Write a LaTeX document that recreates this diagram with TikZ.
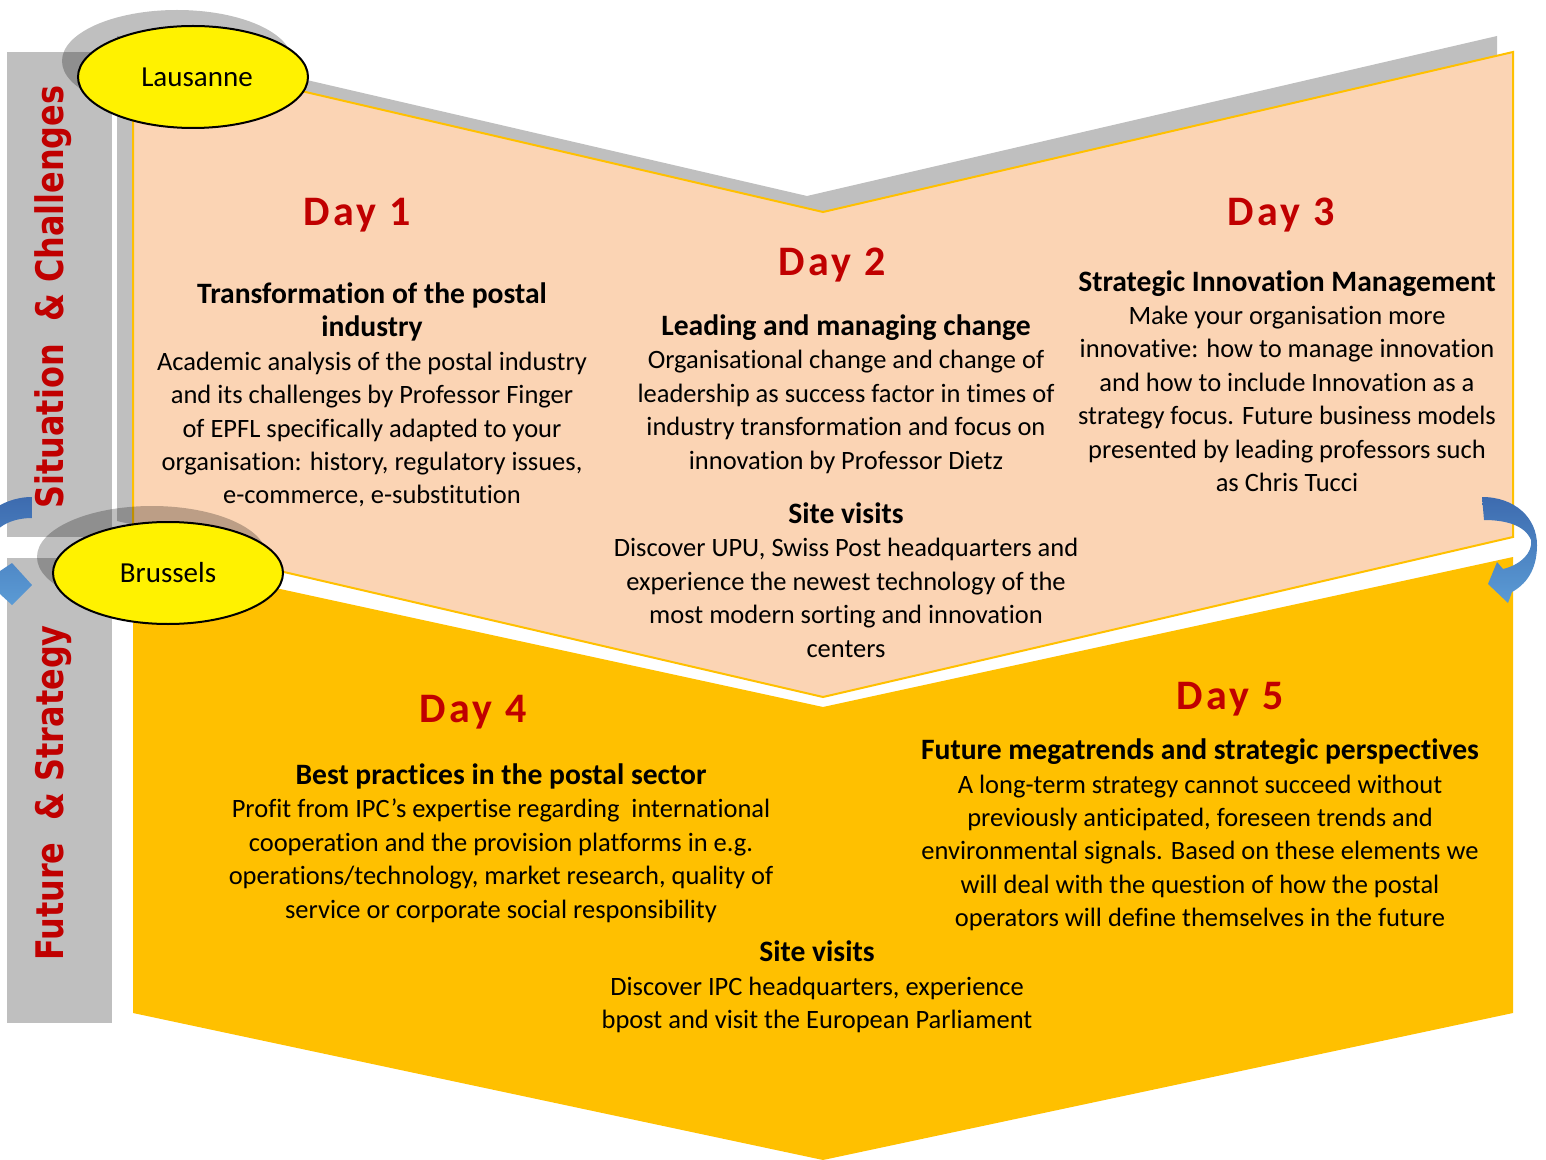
\documentclass[tikz,border=0pt]{standalone}
\usepackage{fontspec}
\setmainfont{Carlito}[Ligatures=NoCommon]
\newfontfamily\dayfont[LetterSpace=8]{Carlito}
\newfontfamily\sidefont{DejaVu Sans}
\usepackage{graphicx}
\usepackage{xcolor}
\usepackage{tikz}
\usetikzlibrary{shapes.geometric}
\usetikzlibrary{shadows}
\usetikzlibrary{positioning}

\definecolor{peach}{HTML}{FBD4B4}
\definecolor{gold}{HTML}{FFC000}
\definecolor{darkred}{HTML}{C00000}
\definecolor{midgray}{HTML}{BFBFBF}
\definecolor{blueA}{HTML}{3D6BAF}
\definecolor{blueB}{HTML}{5B9BD5}

% titulo en negrita, algo mas grande que el texto
\newcommand{\hd}[1]{{\fontsize{14.8}{16.7}\selectfont\bfseries #1}}

\tikzset{
  day/.style={text=darkred, font=\dayfont\bfseries\fontsize{21}{25}\selectfont},
  txt/.style={align=center, inner sep=0pt, font=\fontsize{13.25}{16.7}\selectfont},
  city/.style={ellipse, draw, line width=1pt, fill=yellow,
    minimum width=115pt, minimum height=51pt,
    font=\fontsize{14.5}{17}\selectfont,
    drop shadow={shadow xshift=-8pt, shadow yshift=8pt, opacity=.25, fill=black}},
  side/.style={rotate=90, text=darkred, inner sep=0pt,
    font=\sidefont\bfseries\fontsize{19}{22}\selectfont}
}

\begin{document}
\begin{tikzpicture}[x=0.5pt,y=-0.5pt]
  \clip (0,0) rectangle (1546,1160);

  % Barras grises
  \fill[midgray] (7,52) rectangle (112,537);
  \fill[midgray] (7,558) rectangle (112,1023);

  % Bloque de arriba (con sombra) y bloque de abajo
  \fill[black, opacity=.25, shift={(-16,-16)}]
    (133,52) -- (823,212) -- (1513,52) -- (1513,537) -- (823,697) -- (133,537) -- cycle;
  \filldraw[fill=peach, draw=gold, line width=1pt]
    (133,52) -- (823,212) -- (1513,52) -- (1513,537) -- (823,697) -- (133,537) -- cycle;
  \fill[gold]
    (133,557) -- (823,707) -- (1513,557) -- (1513,1013) -- (823,1160) -- (133,1013) -- cycle;

  % Flechas curvas
  \shade[top color=blueA, bottom color=blueB]
    (1482,497) .. controls (1515,497) and (1537,518) .. (1537,545)
    .. controls (1537,565) and (1530,582) .. (1512,592)
    -- (1508,603) -- (1488,584) -- (1497,562) -- (1503,569)
    .. controls (1520,565) and (1533,553) .. (1531,540)
    .. controls (1525,525) and (1505,520) .. (1484,520) -- cycle;
  \shade[top color=blueA, bottom color=blueB]
    (32,497) .. controls (0,497) and (-30,520) .. (-30,555)
    .. controls (-30,585) and (-14,594) .. (0,594)
    -- (12,605) -- (32,585) -- (12,563) -- (0,571)
    .. controls (-8,571) and (-12,562) .. (-12,552)
    .. controls (-12,530) and (8,518) .. (32,518) -- cycle;

  % Etiquetas laterales
  \node[side] (sit) at (53,297) {\scalebox{0.84}[1]{Situation\ \ \& Challenges}};
  \node[side] (fut) at (53,793) {\scalebox{0.84}[1]{Future\ \ \& Strategy}};

  % Ciudades
  \node[city] (lau) at (193,77) {\raisebox{-1.5pt}{\hspace{4pt}Lausanne}};
  \node[city] (bru) at (168,573) {\raisebox{-1.5pt}{Brussels}};

  % Dias
  \node[day] (d1) at (357,215) {Day 1};
  \node[day] (d2) at (832,265) {Day 2};
  \node[day] (d3) at (1281,215) {Day 3};
  \node[day] (d4) at (473,712) {Day 4};
  \node[day] (d5) at (1230,699) {Day 5};

  % Textos
  \node[txt] (t1) at (372,395) {\hd{Transformation of the postal}\\
    \hd{industry}\\
    Academic analysis of the postal industry\\
    and its challenges by Professor Finger\\
    of EPFL specifically adapted to your\\
    organisation: history, regulatory issues,\\
    e-commerce, e-substitution};
  \node[txt] (t2) at (846,394) {\hd{Leading and managing change}\\
    Organisational change and change of\\
    leadership as success factor in times of\\
    industry transformation and focus on\\
    innovation by Professor Dietz};
  \node[txt] (v2) at (846,580) {\hd{Site visits}\\
    Discover UPU, Swiss Post headquarters and\\
    experience the newest technology of the\\
    most modern sorting and innovation\\
    centers};
  \node[txt] (t3) at (1287,381) {\hd{Strategic Innovation Management}\\
    Make your organisation more\\
    innovative: how to manage innovation\\
    and how to include Innovation as a\\
    strategy focus. Future business models\\
    presented by leading professors such\\
    as Chris Tucci};
  \node[txt] (t4) at (501,843) {\hd{Best practices in the postal sector}\\
    Profit from IPC’s expertise regarding\ \ international\\
    cooperation and the provision platforms in e.g.\\
    operations/technology, market research, quality of\\
    service or corporate social responsibility};
  \node[txt] (t5) at (1200,835) {\hd{Future megatrends and strategic perspectives}\\
    A long-term strategy cannot succeed without\\
    previously anticipated, foreseen trends and\\
    environmental signals. Based on these elements we\\
    will deal with the question of how the postal\\
    operators will define themselves in the future};
  \node[txt] (v4) at (817,987) {\hd{Site visits}\\
    Discover IPC headquarters, experience\\
    bpost and visit the European Parliament};
\end{tikzpicture}
\end{document}
